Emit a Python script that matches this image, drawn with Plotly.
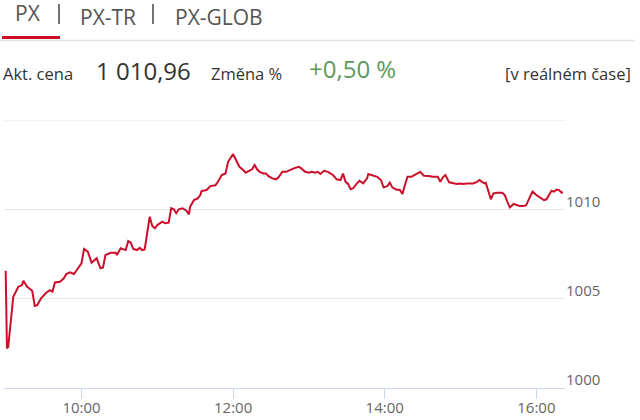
import plotly.graph_objects as go

# ---- data ----
times = ["09:00", "09:01", "09:02", "09:06", "09:10", "09:13", "09:14", "09:17", "09:21", "09:23",
         "09:25", "09:28", "09:32", "09:35", "09:37", "09:39", "09:43", "09:46", "09:48", "09:51",
         "09:54", "09:57", "10:00", "10:02", "10:05", "10:08", "10:12", "10:15", "10:17", "10:19",
         "10:23", "10:27", "10:28", "10:31", "10:34", "10:35", "10:37", "10:39", "10:41", "10:44",
         "10:46", "10:48", "10:50", "10:52", "10:54", "10:56", "10:58", "11:00", "11:02", "11:04",
         "11:06", "11:09", "11:11", "11:13", "11:15", "11:17", "11:20", "11:23", "11:25", "11:26",
         "11:29", "11:32", "11:34", "11:35", "11:39", "11:42", "11:46", "11:48", "11:51", "11:54",
         "11:56", "11:58", "12:00", "12:02", "12:05", "12:08", "12:10", "12:13", "12:15", "12:17",
         "12:19", "12:21", "12:24", "12:26", "12:28", "12:31", "12:34", "12:36", "12:39", "12:42",
         "12:45", "12:48", "12:52", "12:54", "12:57", "13:00", "13:02", "13:05", "13:07", "13:09",
         "13:12", "13:15", "13:19", "13:22", "13:25", "13:27", "13:29", "13:31", "13:33", "13:35",
         "13:38", "13:40", "13:43", "13:46", "13:47", "13:50", "13:54", "13:57", "13:59", "14:02",
         "14:04", "14:06", "14:09", "14:12", "14:14", "14:16", "14:18", "14:21", "14:24", "14:27",
         "14:28", "14:31", "14:35", "14:38", "14:42", "14:44", "14:46", "14:48", "14:51", "14:54",
         "14:57", "15:00", "15:02", "15:05", "15:10", "15:13", "15:15", "15:17", "15:19", "15:20",
         "15:22", "15:24", "15:26", "15:29", "15:33", "15:35", "15:37", "15:39", "15:42", "15:44",
         "15:47", "15:50", "15:52", "15:55", "15:57", "16:00", "16:03", "16:06", "16:08", "16:10",
         "16:12", "16:14", "16:16", "16:18", "16:20", "16:21"]

values = [1006.56, 1002.22, 1002.30, 1005.11, 1005.67, 1005.76, 1006.00, 1005.67, 1005.44, 1004.59,
          1004.64, 1005.02, 1005.33, 1005.48, 1005.39, 1005.91, 1005.95, 1006.14, 1006.38, 1006.47,
          1006.38, 1006.70, 1006.98, 1007.78, 1007.63, 1007.01, 1007.26, 1006.70, 1006.75, 1007.44,
          1007.57, 1007.57, 1007.44, 1007.82, 1007.76, 1007.72, 1008.23, 1008.14, 1007.78, 1007.72,
          1007.85, 1007.72, 1007.76, 1008.66, 1009.59, 1009.07, 1008.94, 1009.12, 1009.22, 1009.31,
          1009.22, 1009.25, 1010.06, 1010.00, 1009.78, 1010.00, 1010.06, 1009.92, 1009.72, 1010.15,
          1010.52, 1010.61, 1010.80, 1011.02, 1011.08, 1011.30, 1011.35, 1011.54, 1011.92, 1012.01,
          1012.66, 1012.85, 1013.09, 1012.80, 1012.38, 1012.20, 1012.05, 1012.16, 1012.24, 1012.48,
          1012.24, 1012.10, 1012.01, 1012.01, 1011.86, 1011.73, 1011.68, 1011.79, 1012.10, 1012.10,
          1012.20, 1012.29, 1012.38, 1012.29, 1012.10, 1012.05, 1012.10, 1012.05, 1012.10, 1011.98,
          1012.16, 1012.10, 1011.92, 1011.68, 1011.64, 1012.00, 1011.54, 1011.42, 1011.12, 1011.18,
          1011.45, 1011.60, 1011.45, 1011.73, 1011.98, 1011.92, 1011.82, 1011.64, 1011.23, 1011.30,
          1011.49, 1011.23, 1011.11, 1011.08, 1010.86, 1011.36, 1011.82, 1011.82, 1011.92, 1012.05,
          1012.10, 1011.88, 1011.86, 1011.82, 1011.82, 1011.54, 1011.79, 1011.92, 1011.51, 1011.45,
          1011.42, 1011.45, 1011.42, 1011.45, 1011.45, 1011.54, 1011.64, 1011.54, 1011.45, 1011.48,
          1010.99, 1010.56, 1010.89, 1010.93, 1010.93, 1010.80, 1010.43, 1010.11, 1010.30, 1010.24,
          1010.18, 1010.18, 1010.24, 1010.71, 1010.99, 1010.80, 1010.67, 1010.52, 1010.56, 1010.80,
          1011.04, 1010.99, 1011.11, 1011.08, 1010.93, 1010.96]

tab_labels = ["PX", "PX-TR", "PX-GLOB"]
last_price = "1 010,96"
change_pct = "+0,50 %"
y_ticks = [1000, 1005, 1010]
y_tick_text = ["1000", "1005", "1010"]
y_top = 1015

DAY = "2024-05-06 "
xs = [DAY + t for t in times]

W, H = 640, 420
ML, MR, MT, MB = 4, 75, 120, 32
PW, PH = W - ML - MR, H - MT - MB


def px(x):
    return (x - ML) / PW


def py(y):
    return (H - MB - y) / PH


FONT = "Open Sans"
RED = "#cc0e2a"

fig = go.Figure()
fig.add_trace(go.Scatter(x=xs, y=values, mode="lines",
                         line=dict(color=RED, width=2), hoverinfo="skip",
                         showlegend=False))

fig.update_layout(
    width=W, height=H,
    margin=dict(l=ML, r=MR, t=MT, b=MB, pad=0, autoexpand=False),
    paper_bgcolor="white", plot_bgcolor="white",
    font=dict(family=FONT, color="#333"),
    showlegend=False,
)
fig.update_xaxes(
    type="date", automargin=False,
    range=[DAY + "08:58:40", DAY + "16:22:40"],
    tick0=DAY + "10:00", dtick=2 * 3600 * 1000,
    tickformat="%H:%M",
    showgrid=False, zeroline=False,
    showline=True, linecolor="#ccd6eb", linewidth=1,
    ticks="outside", ticklen=10, tickcolor="#ccd6eb", tickwidth=1,
    ticklabelstandoff=-4,
    tickfont=dict(family=FONT, size=15, color="#666"),
)
fig.update_yaxes(
    range=[1000, y_top], side="right", automargin=False,
    tickvals=y_ticks, ticktext=y_tick_text,
    showgrid=True, gridcolor="#e6e6e6", gridwidth=1,
    zeroline=False, showline=False, ticks="",
    ticklabelstandoff=0, ticklabelshift=-8,
    tickfont=dict(family=FONT, size=15, color="#666"),
)

shapes = []
# top grid line (no label in the reference)
shapes.append(dict(type="line", xref="paper", yref="y", x0=0, x1=1,
                   y0=y_top, y1=y_top, line=dict(color="#e6e6e6", width=1), layer="below"))
# tab underline / separators
shapes.append(dict(type="line", xref="paper", yref="paper", x0=px(0), x1=px(635),
                   y0=py(40.5), y1=py(40.5), line=dict(color="#e3e3e3", width=1.5)))
shapes.append(dict(type="line", xref="paper", yref="paper", x0=px(2), x1=px(60),
                   y0=py(37.5), y1=py(37.5), line=dict(color=RED, width=3)))
for sx in (59, 153):
    shapes.append(dict(type="line", xref="paper", yref="paper", x0=px(sx), x1=px(sx),
                       y0=py(4), y1=py(24), line=dict(color="#444", width=1.5)))
fig.update_layout(shapes=shapes)

ann = []
tab_x = [13, 78, 173]
tab_y = [13, 17, 17]
for lab, tx, ty in zip(tab_labels, tab_x, tab_y):
    ann.append(dict(text=lab, x=px(tx), y=py(ty), xref="paper", yref="paper",
                    xanchor="left", yanchor="middle", showarrow=False,
                    font=dict(family=FONT, size=21, color="#555")))
row = [
    ("Akt. cena", 1, 73, 16.5, "#333"),
    (last_price, 94, 70, 24, "#333"),
    ("Změna %", 209, 73, 16.5, "#333"),
    (change_pct, 307, 69, 24, "#5b9a5b"),
    ("[v reálném čase]", 633, 73, 16.5, "#333"),
]
for txt, tx, ty, fs, col in row:
    ann.append(dict(text=txt, x=px(tx), y=py(ty), xref="paper", yref="paper",
                    xanchor="right" if tx > 600 else "left", yanchor="middle",
                    showarrow=False, font=dict(family=FONT, size=fs, color=col)))
fig.update_layout(annotations=ann)

fig.write_html("out.html",
               config={"displayModeBar": False},
               post_script="document.body.style.margin='0';document.body.style.overflow='hidden';")
